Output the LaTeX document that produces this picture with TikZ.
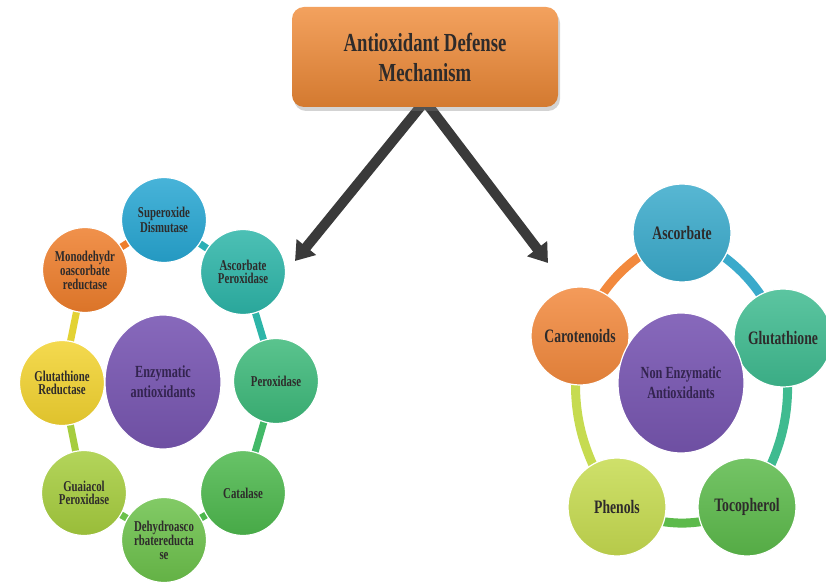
\documentclass[tikz,border=0pt]{standalone}
\usepackage{fontspec}
\newfontfamily\narrowserif[FakeStretch=0.72]{Liberation Serif}
\usepackage{tikz}
\usetikzlibrary{arrows.meta, shadows, backgrounds, shapes.geometric}
\definecolor{boxorange}{HTML}{F08A36}
\definecolor{labelgray}{HTML}{2E2B2B}
\definecolor{arrowgray}{HTML}{3A3A3A}
\definecolor{sodblue}{HTML}{27A6D2}
\definecolor{apxteal}{HTML}{2DB5A8}
\definecolor{poxgreen}{HTML}{3DB97A}
\definecolor{catgreen}{HTML}{4DB84D}
\definecolor{dhargreen}{HTML}{6CC14B}
\definecolor{gpxlime}{HTML}{A6CD3E}
\definecolor{gryellow}{HTML}{F2D330}
\definecolor{mdharorange}{HTML}{EE7E2C}
\definecolor{enzpurple}{HTML}{7A58B4}
\definecolor{enztext}{HTML}{33244F}
\definecolor{ascblue}{HTML}{3AAACB}
\definecolor{gluteal}{HTML}{3FBB90}
\definecolor{tocgreen}{HTML}{5CBA4B}
\definecolor{phelime}{HTML}{C6DB50}
\definecolor{carorange}{HTML}{F2893D}
\tikzset{
x=1pt, y=-1pt, % pixel-like coordinates, y runs downwards
ball/.style={circle, draw=white, line width=1.2pt, minimum size=85pt, inner sep=0pt, align=center, text=labelgray, font=\narrowserif\bfseries\fontsize{15}{13.5}\selectfont}, % small circles of the left ring
bigball/.style={ball, minimum size=98pt, font=\narrowserif\bfseries\fontsize{19}{21}\selectfont}, % circles of the right ring
hub/.style={ellipse, draw=white, line width=1.2pt, inner sep=0pt, align=center, text=enztext}, % purple centre
link/.style={line width=7pt}, % bars between the circles
biglink/.style={line width=9pt},
bigarrow/.style={-{Triangle[width=24pt,length=18pt]}, line width=10pt, draw=arrowgray},
}

\begin{document}
\begin{tikzpicture}
\useasboundingbox (0,0) rectangle (826,585);
% title
\node[rounded corners=12pt, minimum width=266pt, minimum height=100pt, top color=boxorange!80!white, bottom color=boxorange!88!black, drop shadow={shadow xshift=2pt, shadow yshift=-4pt, opacity=0.35}, align=center, text=labelgray, font=\narrowserif\bfseries\fontsize{26}{30}\selectfont] (title) at (425,57) {Antioxidant Defense\\Mechanism};
\coordinate (lefttip) at (295,261);
\coordinate (righttip) at (548,263);
% left ring
\node[ball, top color=sodblue!85!white, bottom color=sodblue!92!black] (sod) at (164,220) {Superoxide\\Dismutase};
\node[ball, top color=apxteal!85!white, bottom color=apxteal!92!black] (apx) at (243,272) {Ascorbate\\Peroxidase};
\node[ball, top color=poxgreen!85!white, bottom color=poxgreen!92!black] (pox) at (276,381) {Peroxidase};
\node[ball, top color=catgreen!85!white, bottom color=catgreen!92!black] (cat) at (243,493) {Catalase};
\node[ball, top color=dhargreen!85!white, bottom color=dhargreen!92!black] (dhar) at (164,540) {Dehydroasco\\rbatereducta\\se};
\node[ball, top color=gpxlime!85!white, bottom color=gpxlime!92!black] (gpx) at (84,493) {Guaiacol\\Peroxidase};
\node[ball, top color=gryellow!85!white, bottom color=gryellow!92!black] (gr) at (62,383) {Glutathione\\Reductase};
\node[ball, top color=mdharorange!85!white, bottom color=mdharorange!92!black] (mdhar) at (85,270) {Monodehydr\\oascorbate\\reductase};
\node[hub, minimum width=116pt, minimum height=134pt, top color=enzpurple!90!white, bottom color=enzpurple!90!black, font=\narrowserif\bfseries\fontsize{17}{20}\selectfont] (enz) at (163,382) {Enzymatic\\antioxidants};
% right ring
\node[bigball, top color=ascblue!85!white, bottom color=ascblue!92!black] (asc) at (682,233) {Ascorbate};
\node[bigball, top color=gluteal!85!white, bottom color=gluteal!92!black] (glu) at (783,338) {Glutathione};
\node[bigball, top color=tocgreen!85!white, bottom color=tocgreen!92!black] (toc) at (747,507) {Tocopherol};
\node[bigball, top color=phelime!85!white, bottom color=phelime!92!black] (phe) at (617,507) {Phenols};
\node[bigball, top color=carorange!85!white, bottom color=carorange!92!black] (car) at (580,336) {Carotenoids};
\node[hub, minimum width=126pt, minimum height=140pt, top color=enzpurple!90!white, bottom color=enzpurple!90!black, font=\narrowserif\bfseries\fontsize{17}{20}\selectfont] (nea) at (681,383) {Non Enzymatic\\Antioxidants};
\begin{pgfonlayer}{background}
\draw[bigarrow] ([yshift=6pt]title.south) -- (lefttip);
\draw[bigarrow] ([yshift=6pt]title.south) -- (righttip);
\draw[link, draw=mdharorange] (mdhar.center) -- (sod.center);
\draw[link, draw=apxteal!70!sodblue] (sod.center) -- (apx.center);
\draw[link, draw=apxteal] (apx.center) -- (pox.center);
\draw[link, draw=poxgreen!60!catgreen] (pox.center) -- (cat.center);
\draw[link, draw=catgreen] (cat.center) -- (dhar.center);
\draw[link, draw=dhargreen] (dhar.center) -- (gpx.center);
\draw[link, draw=gpxlime] (gpx.center) -- (gr.center);
\draw[link, draw=gryellow!80!gpxlime] (gr.center) -- (mdhar.center);
\draw[biglink, draw=carorange] (car.center) to[bend left=22] (asc.center);
\draw[biglink, draw=ascblue] (asc.center) to[bend left=22] (glu.center);
\draw[biglink, draw=gluteal] (glu.center) to[bend left=22] (toc.center);
\draw[biglink, draw=tocgreen] (toc.center) to[bend left=25] (phe.center);
\draw[biglink, draw=phelime] (phe.center) to[bend left=22] (car.center);
\end{pgfonlayer}
\end{tikzpicture}
\end{document}
